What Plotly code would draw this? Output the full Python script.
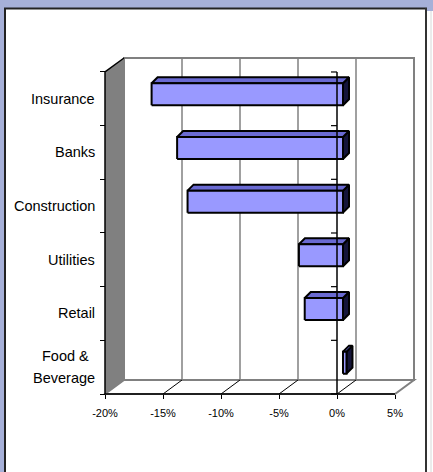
import plotly.graph_objects as go

# ---------------- data ----------------
categories = ["Insurance", "Banks", "Construction", "Utilities", "Retail", "Food &<br>Beverage"]
values = [-16.5, -14.3, -13.4, -3.8, -3.3, 0.3]          # percent
x_ticks = [-20, -15, -10, -5, 0, 5]
x_tick_labels = ["-20%", "-15%", "-10%", "-5%", "0%", "5%"]

# ---------------- geometry / style ----------------
W, H = 433, 472
PL, PR, PT, PB = 95, 420, 50, 402          # plot-area pixel box
FX0, FY0 = 105, 394                         # front plane: x=-20 pixel, y=-0.5 pixel
PXX = 11.6                                   # px per percent
PXY = 53.67                                  # px per category
XMIN, XMAX = x_ticks[0], x_ticks[-1]
n = len(categories)
YMIN, YMAX = -0.5, n - 0.5

x_lo = XMIN - (FX0 - PL) / PXX
x_hi = XMIN + (PR - FX0) / PXX
y_lo = YMIN - (PB - FY0) / PXY
y_hi = YMIN + (FY0 - PT) / PXY

DX = 19 / PXX        # depth offset
DY = 14 / PXY

GRAY = "#808080"
FRONT = "#9999FF"
TOP = "#6A6AD2"
SIDE = "#14143A"
LAV = "#A6B0D8"


def xp(px):
    return (px - PL) / (PR - PL)


def yp(py):
    return (PB - py) / (PB - PT)


fig = go.Figure()

# ---------------- bars (pseudo 3-D) ----------------
h = 11 / PXY
s0 = (6 / PXX, 4.5 / PXY)
s1 = (12 / PXX, 10.5 / PXY)

for i, (cat, v) in enumerate(zip(categories, values)):
    c = n - 1 - i
    x0, x1 = min(0, v), max(0, v)
    side = [(x1 + s0[0], c - h + s0[1]), (x1 + s0[0], c + h + s0[1]),
            (x1 + s1[0], c + h + s1[1]), (x1 + s1[0], c - h + s1[1])]
    top = [(x0 + s0[0], c + h + s0[1]), (x1 + s0[0], c + h + s0[1]),
           (x1 + s1[0], c + h + s1[1]), (x0 + s1[0], c + h + s1[1])]
    front = [(x0 + s0[0], c - h + s0[1]), (x1 + s0[0], c - h + s0[1]),
             (x1 + s0[0], c + h + s0[1]), (x0 + s0[0], c + h + s0[1])]
    for poly, col in ((side, SIDE), (top, TOP), (front, FRONT)):
        xs = [p[0] for p in poly] + [poly[0][0]]
        ys = [p[1] for p in poly] + [poly[0][1]]
        fig.add_trace(go.Scatter(x=xs, y=ys, mode="lines", fill="toself",
                                 fillcolor=col, line=dict(color="black", width=2),
                                 hoverinfo="skip", showlegend=False))

shapes = []
# outer frame (paper coords)
shapes.append(dict(type="rect", xref="paper", yref="paper", layer="below",
                   x0=xp(0), x1=xp(W), y0=yp(0), y1=yp(8), fillcolor=LAV, line_width=0))
shapes.append(dict(type="rect", xref="paper", yref="paper", layer="below",
                   x0=xp(0), x1=xp(4), y0=yp(0), y1=yp(H), fillcolor=LAV, line_width=0))
shapes.append(dict(type="rect", xref="paper", yref="paper", layer="below",
                   x0=xp(427), x1=xp(W), y0=yp(0), y1=yp(11), fillcolor=LAV, line_width=0))
shapes.append(dict(type="line", xref="paper", yref="paper", layer="below",
                   x0=xp(5), x1=xp(5), y0=yp(8), y1=yp(H), line=dict(color="#222222", width=2)))
shapes.append(dict(type="line", xref="paper", yref="paper", layer="below",
                   x0=xp(4), x1=xp(427), y0=yp(8.5), y1=yp(8.5), line=dict(color="#222222", width=2)))
shapes.append(dict(type="line", xref="paper", yref="paper", layer="below",
                   x0=xp(426), x1=xp(426), y0=yp(8), y1=yp(H), line=dict(color="#333333", width=2)))
shapes.append(dict(type="line", xref="paper", yref="paper", layer="below",
                   x0=xp(431), x1=xp(431), y0=yp(11), y1=yp(H), line=dict(color="#D8D8D8", width=1)))

# back wall
shapes.append(dict(type="rect", xref="x", yref="y", layer="below",
                   x0=XMIN + DX, x1=XMAX + DX, y0=YMIN + DY, y1=YMAX + DY,
                   fillcolor="white", line=dict(color=GRAY, width=2)))
for t in x_ticks[1:-1]:
    shapes.append(dict(type="line", xref="x", yref="y", layer="below",
                       x0=t + DX, x1=t + DX, y0=YMIN + DY, y1=YMAX + DY,
                       line=dict(color=GRAY, width=1.5)))
# floor
shapes.append(dict(type="path", xref="x", yref="y", layer="below",
                   path=f"M {XMIN},{YMIN} L {XMAX},{YMIN} L {XMAX + DX},{YMIN + DY} L {XMIN + DX},{YMIN + DY} Z",
                   fillcolor="white", line=dict(color=GRAY, width=2)))
for t in x_ticks[1:-1]:
    shapes.append(dict(type="line", xref="x", yref="y", layer="below",
                       x0=t, x1=t + DX, y0=YMIN, y1=YMIN + DY,
                       line=dict(color="black", width=1)))
# left wall
shapes.append(dict(type="path", xref="x", yref="y", layer="below",
                   path=f"M {XMIN},{YMIN} L {XMIN},{YMAX} L {XMIN + DX},{YMAX + DY} L {XMIN + DX},{YMIN + DY} Z",
                   fillcolor=GRAY, line_width=0))
shapes.append(dict(type="path", xref="x", yref="y", layer="below",
                   path=f"M {XMIN},{YMIN} L {XMIN},{YMAX} L {XMIN + DX},{YMAX + DY}",
                   line=dict(color="black", width=1.5)))
# front floor edge
shapes.append(dict(type="line", xref="x", yref="y", layer="below",
                   x0=XMIN, x1=XMAX, y0=YMIN, y1=YMIN, line=dict(color="black", width=1.5)))
# category axis at 0 (in front of bars)
shapes.append(dict(type="line", xref="x", yref="y", layer="above",
                   x0=0, x1=0, y0=YMIN, y1=YMAX, line=dict(color="black", width=1.5)))
for k in range(n + 1):
    b = YMIN + k
    shapes.append(dict(type="line", xref="x", yref="y", layer="above",
                       xsizemode="pixel", xanchor=0, x0=-6, x1=0, y0=b, y1=b,
                       line=dict(color="black", width=1.2)))

# category labels
annotations = []
for i, cat in enumerate(categories):
    c = n - 1 - i
    lines = cat.split("<br>")
    for j, ln in enumerate(lines):
        off = (len(lines) - 1) / 2 - j
        annotations.append(dict(x=XMIN, y=c, xref="x", yref="y", text=ln, showarrow=False,
                                xanchor="right", yanchor="middle", xshift=-8,
                                yshift=off * 22, align="center",
                                font=dict(family="Liberation Sans, Arial", size=14.5, color="black")))
# center the short first line of a two-line label over the longer second line
for a in annotations:
    if a["text"] == "Food &":
        a["xanchor"] = "center"
        a["xshift"] = -8 - 32

fig.update_layout(
    width=W, height=H,
    margin=dict(l=PL, r=W - PR, t=PT, b=H - PB, pad=0),
    paper_bgcolor="white", plot_bgcolor="rgba(0,0,0,0)",
    showlegend=False,
    shapes=shapes, annotations=annotations,
    xaxis=dict(range=[x_lo, x_hi], anchor="free", position=yp(FY0),
               tickvals=x_ticks, ticktext=x_tick_labels, ticks="outside", ticklen=4,
               ticklabelstandoff=5,
               tickcolor="black", tickwidth=1, showgrid=False, zeroline=False, showline=False,
               tickfont=dict(family="Liberation Sans, Arial", size=11, color="#000000"), fixedrange=True),
    yaxis=dict(range=[y_lo, y_hi], anchor="free", position=xp(FX0),
               tickvals=[YMIN + k for k in range(n + 1)], ticks="outside", ticklen=5,
               tickcolor="black", tickwidth=1, showticklabels=False,
               showgrid=False, zeroline=False, showline=False, fixedrange=True),
)

fig.write_html("out.html", config={"displayModeBar": False},
               post_script="document.body.style.margin='0';document.body.style.overflow='hidden';")
